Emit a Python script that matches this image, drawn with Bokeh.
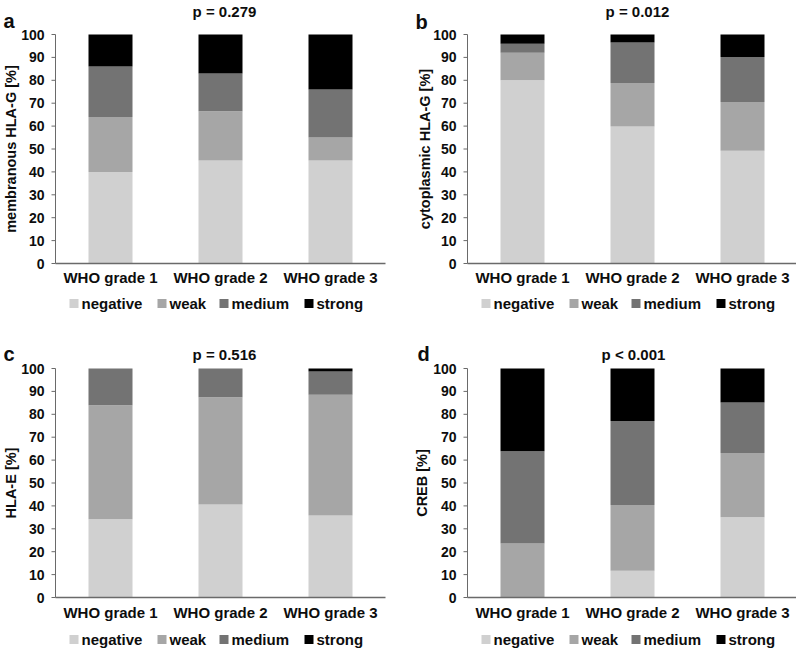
import math
from bokeh.plotting import figure
from bokeh.models import Range1d, ColumnDataSource
from bokeh.layouts import gridplot
from bokeh.core.properties import value
from bokeh.embed import file_html
from bokeh.resources import INLINE

categories = ["WHO grade 1", "WHO grade 2", "WHO grade 3"]
levels = ["negative", "weak", "medium", "strong"]
colors = ["#d0d0d0", "#a6a6a6", "#737373", "#000000"]
y_ticks = [0, 10, 20, 30, 40, 50, 60, 70, 80, 90, 100]

# panel a: membranous HLA-G
a_negative = [40.0, 45.0, 45.0]
a_weak = [24.0, 21.5, 10.0]
a_medium = [22.0, 16.5, 21.0]
a_strong = [14.0, 17.0, 24.0]

# panel b: cytoplasmic HLA-G
b_negative = [80.0, 59.8, 49.2]
b_weak = [12.0, 19.0, 21.3]
b_medium = [4.0, 17.7, 19.7]
b_strong = [4.0, 3.5, 9.8]

# panel c: HLA-E
c_negative = [34.2, 40.6, 35.8]
c_weak = [49.8, 46.9, 52.7]
c_medium = [16.0, 12.5, 10.2]
c_strong = [0.0, 0.0, 1.3]

# panel d: CREB
d_negative = [0.0, 11.7, 35.0]
d_weak = [23.6, 28.7, 28.1]
d_medium = [40.3, 36.7, 22.0]
d_strong = [36.1, 22.9, 14.9]

FONT = "Liberation Sans"
AXIS_COLOR = "#6a6a6a"
TEXT_COLOR = "#0d0d0d"
CAT_PX = 110.0          # pixels per category slot
BAR_WIDTH = 0.4
LEGEND_OFFS = [18.5, 106.5, 168.5, 253.5]   # legend square centres, px right of the y axis


def panel(letter, ptext, ylabel, neg, weak, med, strong, W, H, axis_px, y100_px, y0_px,
          letter_xy, p_xy, ylab_x, xlab_y, leg_y):
    ppu = (y0_px - y100_px) / 100.0
    x_lo = -axis_px / CAT_PX
    x_hi = (W - axis_px) / CAT_PX
    y_hi = 100.0 + y100_px / ppu
    y_lo = -(H - y0_px) / ppu

    def dx(px):
        return x_lo + px / CAT_PX

    def dy(py):
        return y_hi - py / ppu

    p = figure(width=W, height=H, x_range=Range1d(x_lo, x_hi), y_range=Range1d(y_lo, y_hi),
               output_backend="svg", toolbar_location=None, x_axis_type=None, y_axis_type=None,
               min_border=0, min_border_left=0, min_border_right=0, min_border_top=0, min_border_bottom=0)
    p.outline_line_color = None
    p.xgrid.visible = False
    p.ygrid.visible = False

    xs = [i + 0.5 for i in range(len(categories))]
    src = ColumnDataSource(dict(x=xs, negative=neg, weak=weak, medium=med, strong=strong))
    p.vbar_stack(levels, x="x", width=BAR_WIDTH, fill_color=colors, line_color=None, source=src)

    tf = value(FONT)
    # x axis
    p.segment(x0=[0], y0=[0], x1=[len(categories)], y1=[0], line_color=AXIS_COLOR, line_width=1.3)
    p.text(x=xs, y=[dy(xlab_y)] * len(xs), text=categories, text_font=tf, text_font_style="bold",
           text_font_size="15px", text_align="center", text_baseline="middle", text_color=TEXT_COLOR)
    # y axis
    p.segment(x0=[0], y0=[0], x1=[0], y1=[100], line_color=AXIS_COLOR, line_width=1)
    p.segment(x0=[dx(axis_px - 4)] * len(y_ticks), y0=y_ticks, x1=[0] * len(y_ticks), y1=y_ticks,
              line_color=AXIS_COLOR, line_width=1)
    p.text(x=[dx(axis_px - 11)] * len(y_ticks), y=y_ticks, text=[str(t) for t in y_ticks],
           text_font=tf, text_font_style="bold", text_font_size="14px",
           text_align="right", text_baseline="middle", text_color=TEXT_COLOR)
    p.text(x=[dx(ylab_x)], y=[50], text=[ylabel], angle=math.pi / 2, text_font=tf,
           text_font_style="bold", text_font_size="14.5px", text_align="center",
           text_baseline="middle", text_color=TEXT_COLOR)
    # panel letter and p value
    p.text(x=[dx(letter_xy[0])], y=[dy(letter_xy[1])], text=[letter], text_font=tf,
           text_font_style="bold", text_font_size="20px", text_align="left",
           text_baseline="alphabetic", text_color=TEXT_COLOR)
    p.text(x=[dx(p_xy[0])], y=[dy(p_xy[1])], text=[ptext], text_font=tf,
           text_font_style="bold", text_font_size="15px", text_align="center",
           text_baseline="alphabetic", text_color=TEXT_COLOR)
    # legend
    lx = [dx(axis_px + o) for o in LEGEND_OFFS]
    ly = [dy(leg_y)] * len(levels)
    p.scatter(x=lx, y=ly, marker="square", size=9, fill_color=colors, line_color=None)
    p.text(x=[dx(axis_px + o + 7.5) for o in LEGEND_OFFS], y=ly, text=levels, text_font=tf,
           text_font_style="bold", text_font_size="15px", text_align="left",
           text_baseline="middle", text_color=TEXT_COLOR)
    return p


pa = panel("a", "p = 0.279", "membranous HLA-G [%]", a_negative, a_weak, a_medium, a_strong,
           400, 330, 55, 34, 263, (3, 20), (224, 11), 10, 277, 303)
pb = panel("b", "p = 0.012", "cytoplasmic HLA-G [%]", b_negative, b_weak, b_medium, b_strong,
           396, 330, 67, 34, 263, (15, 21), (237, 11), 24, 277, 303)
pc = panel("c", "p = 0.516", "HLA-E [%]", c_negative, c_weak, c_medium, c_strong,
           400, 318, 55, 38, 267, (3, 23), (224, 24), 10, 282, 309)
pd = panel("d", "p < 0.001", "CREB [%]", d_negative, d_weak, d_medium, d_strong,
           396, 318, 67, 38, 267, (17, 23), (233, 24), 21, 282, 309)

grid = gridplot([[pa, pb], [pc, pd]], toolbar_location=None)
open("out.html", "w").write(file_html(grid, INLINE))
